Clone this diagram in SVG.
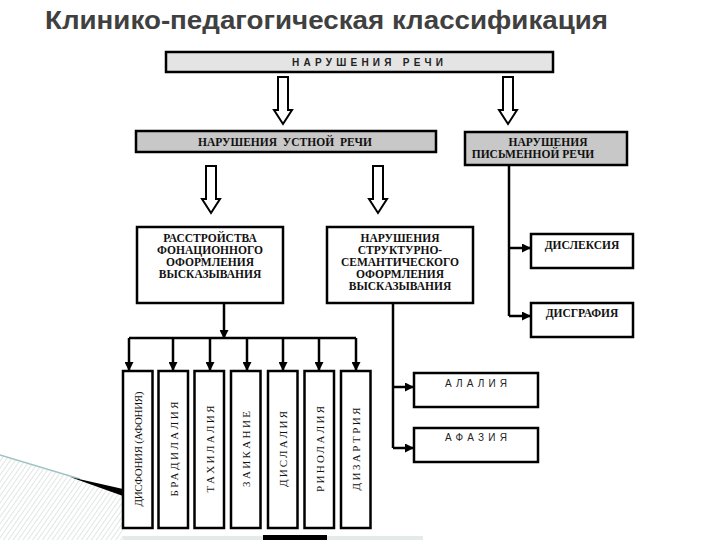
<svg xmlns="http://www.w3.org/2000/svg" width="720" height="540" viewBox="0 0 720 540">
<style>
.box{fill:#fff;stroke:#000;stroke-width:2.5}
.gray{fill:#c8c8c8;stroke:#000;stroke-width:2.5}
.light{fill:#e4e4e4;stroke:#000;stroke-width:2.5}
.t{font-family:"Liberation Serif","DejaVu Serif",serif;font-weight:bold;font-size:11.5px;fill:#111;text-anchor:middle}
.v{font-family:"Liberation Serif","DejaVu Serif",serif;font-size:11px;fill:#111;text-anchor:middle}
.s{font-family:"Liberation Sans","DejaVu Sans",sans-serif;font-size:10px;fill:#222}
.line{fill:none;stroke:#000;stroke-width:2.5}
.hollow{fill:#fff;stroke:#000;stroke-width:2}
</style>
<defs>
<marker id="ah" markerUnits="userSpaceOnUse" markerWidth="9" markerHeight="9" refX="8" refY="4.5" orient="auto">
<path d="M0,0 L9,4.5 L0,9 Z" fill="#000"/>
</marker>
<path id="harrow" d="M-5,0 H5 V33 H9 L0,47 L-9,33 H-5 Z"/>
<pattern id="hatch" patternUnits="userSpaceOnUse" width="4" height="4" patternTransform="rotate(35)">
<line x1="0" y1="0" x2="0" y2="4" stroke="#c4cccc" stroke-width="1"/>
</pattern>
</defs>
<rect width="720" height="540" fill="#fff"/>

<!-- slide decoration -->
<polygon points="0,455 123,494 123,540 0,540" fill="url(#hatch)"/>
<line x1="0" y1="455" x2="80" y2="479" stroke="#9fc4c4" stroke-width="1.5"/>
<polygon points="70,477 123,489 123,496" fill="#000"/>
<rect x="123" y="536" width="300" height="4" fill="#e4eaea"/>
<rect x="263" y="535" width="64" height="5" fill="#000"/>

<text x="45" y="29" font-family="'Liberation Sans','DejaVu Sans',sans-serif" font-weight="bold" font-size="25" fill="#404040" textLength="563" lengthAdjust="spacingAndGlyphs">Клинико-педагогическая классификация</text>

<g id="connectors">
<use href="#harrow" x="283" y="77" class="hollow"/>
<use href="#harrow" x="508" y="77" class="hollow"/>
<use href="#harrow" x="211" y="166" class="hollow"/>
<use href="#harrow" x="378" y="166" class="hollow"/>
<path class="line" d="M509,165 V316"/>
<path class="line" d="M509,248 H530" marker-end="url(#ah)"/>
<path class="line" d="M509,316 H530" marker-end="url(#ah)"/>
<path class="line" d="M224,303 V338" marker-end="url(#ah)"/>
<path class="line" d="M129,338 H356"/>
<path class="line" d="M129,338 V370" marker-end="url(#ah)"/>
<path class="line" d="M173,338 V370" marker-end="url(#ah)"/>
<path class="line" d="M210,338 V370" marker-end="url(#ah)"/>
<path class="line" d="M247,338 V370" marker-end="url(#ah)"/>
<path class="line" d="M283,338 V370" marker-end="url(#ah)"/>
<path class="line" d="M319,338 V370" marker-end="url(#ah)"/>
<path class="line" d="M356,338 V370" marker-end="url(#ah)"/>
<path class="line" d="M393,303 V448"/>
<path class="line" d="M393,387 H413" marker-end="url(#ah)"/>
<path class="line" d="M393,448 H413" marker-end="url(#ah)"/>
</g>

<g id="speech">
<rect class="light" x="166" y="52" width="387" height="20"/>
<text class="s" x="292" y="65.5" font-weight="bold" font-size="9.5" textLength="151" lengthAdjust="spacing">НАРУШЕНИЯ  РЕЧИ</text>
</g>
<g id="oral">
<rect class="gray" x="136" y="131" width="300" height="21"/>
<text class="t" x="285" y="145.5" font-size="10.5" textLength="174" lengthAdjust="spacing" style="text-anchor:middle" xml:space="preserve">НАРУШЕНИЯ  УСТНОЙ  РЕЧИ</text>
</g>
<g id="written">
<rect class="gray" x="465" y="132" width="162" height="33"/>
<text class="t" x="548" y="146" font-size="10.5">НАРУШЕНИЯ</text>
<text class="t" x="533" y="158" font-size="10.5">ПИСЬМЕННОЙ РЕЧИ</text>
</g>
<g id="phonation">
<rect class="box" x="137" y="227" width="146" height="76"/>
<text class="t" x="210" y="242">РАССТРОЙСТВА</text>
<text class="t" x="210" y="254">ФОНАЦИОННОГО</text>
<text class="t" x="210" y="266">ОФОРМЛЕНИЯ</text>
<text class="t" x="210" y="278">ВЫСКАЗЫВАНИЯ</text>
</g>
<g id="structural">
<rect class="box" x="327" y="227" width="146" height="76"/>
<text class="t" x="400" y="242">НАРУШЕНИЯ</text>
<text class="t" x="400" y="254">СТРУКТУРНО-</text>
<text class="t" x="400" y="266">СЕМАНТИЧЕСКОГО</text>
<text class="t" x="400" y="278">ОФОРМЛЕНИЯ</text>
<text class="t" x="400" y="290">ВЫСКАЗЫВАНИЯ</text>
</g>
<g id="dyslexia">
<rect class="box" x="531" y="234" width="102" height="34"/>
<text class="t" x="582" y="249">ДИСЛЕКСИЯ</text>
</g>
<g id="dysgraphia">
<rect class="box" x="531" y="303" width="102" height="34"/>
<text class="t" x="582" y="317">ДИСГРАФИЯ</text>
</g>
<g id="alalia">
<rect class="box" x="414" y="373" width="124" height="34"/>
<text class="s" x="476" y="387" style="text-anchor:middle" textLength="62" lengthAdjust="spacing">АЛАЛИЯ</text>
</g>
<g id="aphasia">
<rect class="box" x="414" y="428" width="124" height="34"/>
<text class="s" x="476" y="441" style="text-anchor:middle" textLength="62" lengthAdjust="spacing">АФАЗИЯ</text>
</g>
<g id="dysphonia">
<rect class="box" x="123" y="371" width="29.5" height="157"/>
<text class="v" transform="translate(141.5,449) rotate(-90)" textLength="115" lengthAdjust="spacing">ДИСФОНИЯ (АФОНИЯ)</text>
</g>
<g id="bradylalia">
<rect class="box" x="158.5" y="371" width="29.5" height="157"/>
<text class="v" transform="translate(177.5,449) rotate(-90)" textLength="95" lengthAdjust="spacing">БРАДИЛАЛИЯ</text>
</g>
<g id="tachylalia">
<rect class="box" x="194.5" y="371" width="29.5" height="157"/>
<text class="v" transform="translate(213.5,449) rotate(-90)" textLength="87" lengthAdjust="spacing">ТАХИЛАЛИЯ</text>
</g>
<g id="stuttering">
<rect class="box" x="231" y="371" width="29.5" height="157"/>
<text class="v" transform="translate(250,449) rotate(-90)" textLength="76" lengthAdjust="spacing">ЗАИКАНИЕ</text>
</g>
<g id="dyslalia">
<rect class="box" x="268" y="371" width="29.5" height="157"/>
<text class="v" transform="translate(287,449) rotate(-90)" textLength="76" lengthAdjust="spacing">ДИСЛАЛИЯ</text>
</g>
<g id="rhinolalia">
<rect class="box" x="304.5" y="371" width="29.5" height="157"/>
<text class="v" transform="translate(323.5,449) rotate(-90)" textLength="86" lengthAdjust="spacing">РИНОЛАЛИЯ</text>
</g>
<g id="dysarthria">
<rect class="box" x="341" y="371" width="29.5" height="157"/>
<text class="v" transform="translate(360,449) rotate(-90)" textLength="83" lengthAdjust="spacing">ДИЗАРТРИЯ</text>
</g>
</svg>
